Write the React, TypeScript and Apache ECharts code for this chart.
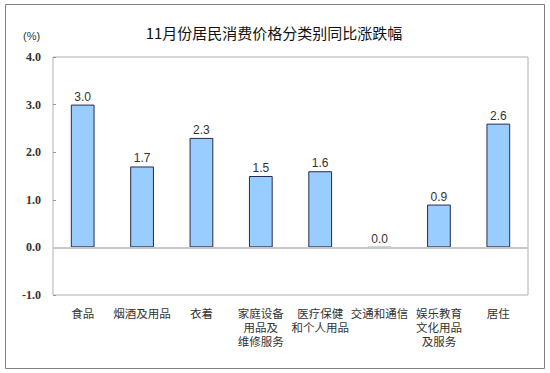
import React, { useEffect, useRef } from "react";
import * as echarts from "echarts";

const categories = [
  "食品",
  "烟酒及用品",
  "衣着",
  "家庭设备\n用品及\n维修服务",
  "医疗保健\n和个人用品",
  "交通和通信",
  "娱乐教育\n文化用品\n及服务",
  "居住",
];
const values = [3.0, 1.7, 2.3, 1.5, 1.6, 0.0, 0.9, 2.6];
const titleText = "11月份居民消费价格分类别同比涨跌幅";
const unitText = "(%)";

export default function App() {
  const ref = useRef<HTMLDivElement>(null);
  useEffect(() => {
    const chart = echarts.init(ref.current!, null, { renderer: "svg" });
    chart.setOption({
      animation: false,
      backgroundColor: "#ffffff",
      title: {
        text: titleText,
        left: 269,
        textAlign: "center",
        top: 20,
        textStyle: {
          fontFamily: "Noto Sans CJK SC",
          fontSize: 15,
          fontWeight: "normal",
          color: "#111",
        },
      },
      graphic: [
        {
          type: "rect",
          shape: { x: 5.5, y: 4.5, width: 539, height: 364 },
          style: { fill: "none", stroke: "#808080", lineWidth: 1 },
          silent: true,
        },
        {
          type: "text",
          x: 23,
          y: 30,
          style: {
            text: unitText,
            fontFamily: "Liberation Sans",
            fontSize: 11,
            fill: "#333",
          },
        },
      ],
      grid: {
        left: 53,
        top: 57,
        width: 475,
        height: 238,
        show: true,
        borderColor: "#b0b0b0",
        borderWidth: 1,
        backgroundColor: "transparent",
      },
      xAxis: {
        type: "category",
        data: categories,
        axisLine: { show: false, onZero: false },
        axisTick: { show: false },
        axisLabel: {
          interval: 0,
          margin: 11,
          fontFamily: "Noto Sans CJK SC",
          fontSize: 11.5,
          lineHeight: 14,
          color: "#333",
          align: "center",
          verticalAlign: "top",
        },
      },
      yAxis: {
        type: "value",
        min: -1,
        max: 4,
        interval: 1,
        splitLine: { show: false },
        axisLine: { show: false },
        axisTick: { show: true, inside: true, length: 3, lineStyle: { color: "#999" } },
        axisLabel: {
          margin: 12,
          fontFamily: "Liberation Serif",
          fontSize: 12,
          fontWeight: "bold",
          color: "#333",
          formatter: (v: number) => v.toFixed(1),
        },
      },
      series: [
        {
          type: "bar",
          data: values,
          barWidth: "40%",
          itemStyle: {
            color: "#99ccff",
            borderColor: "#2a2a4a",
            borderWidth: 1,
          },
          label: {
            show: true,
            position: "top",
            distance: 2,
            fontFamily: "Liberation Sans",
            fontSize: 12,
            color: "#333",
            formatter: (p: any) => Number(p.value).toFixed(1),
          },
          markLine: {
            silent: true,
            symbol: "none",
            label: { show: false },
            lineStyle: { color: "#c8c8c8", width: 2, type: "solid" },
            data: [{ yAxis: 0 }],
          },
        },
      ],
    });
    return () => chart.dispose();
  }, []);
  return (
    <div
      ref={ref}
      style={{ position: "fixed", left: 0, top: 0, width: 550, height: 373 }}
    />
  );
}
